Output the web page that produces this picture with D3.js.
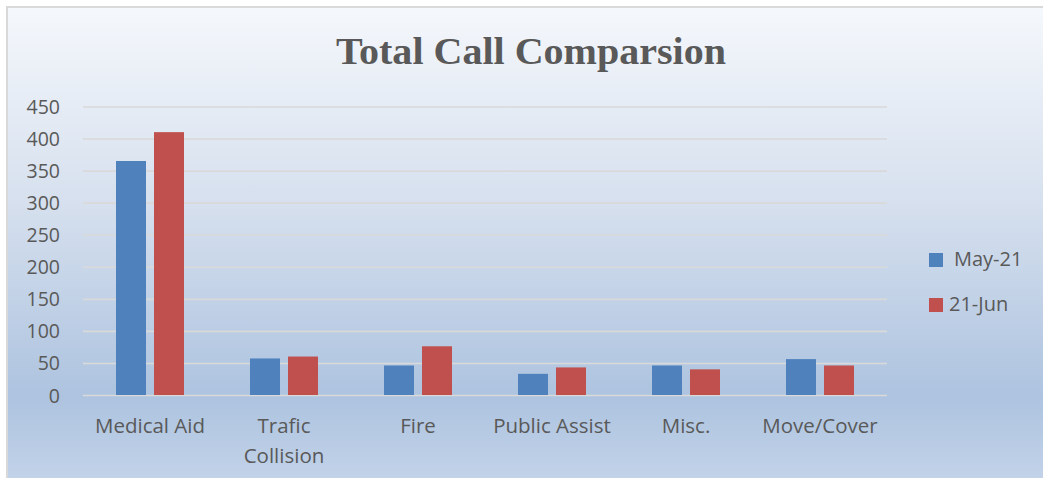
<!DOCTYPE html>
<html>
<head>
<meta charset="utf-8">
<script src="https://cdn.jsdelivr.net/npm/d3@7"></script>
<style>
  body { margin: 0; background: #fff; }
  svg { display: block; }
  text { font-family: "Open Sans", sans-serif; fill: #595959; }
</style>
</head>
<body>
<div id="chart"></div>
<script>
// chart data
var categories = ["Medical Aid", "Trafic Collision", "Fire", "Public Assist", "Misc.", "Move/Cover"]
var series_names = ["May-21", "21-Jun"]
var may_values = [365, 57, 46, 33, 46, 56]
var jun_values = [410, 60, 76, 43, 40, 46]
var y_ticks = [0, 50, 100, 150, 200, 250, 300, 350, 400, 450]
var title_text = "Total Call Comparsion"

var colors = ["#4f81bd", "#c0504d"]
var W = 1043, H = 478
var plot = {left: 83, right: 887, top: 106.5, bottom: 395}

var svg = d3.select("#chart").append("svg")
    .attr("width", W)
    .attr("height", H)

// background gradient of the chart area
var grad = svg.append("defs").append("linearGradient")
    .attr("id", "bg")
    .attr("x1", 0).attr("y1", 0).attr("x2", 0).attr("y2", 1)
grad.append("stop").attr("offset", "0%").attr("stop-color", "#f5f8fc")
grad.append("stop").attr("offset", "40%").attr("stop-color", "#d6e0ee")
grad.append("stop").attr("offset", "80%").attr("stop-color", "#adc3df")
grad.append("stop").attr("offset", "100%").attr("stop-color", "#c6d6eb")

svg.append("rect")
    .attr("x", 7).attr("y", 7)
    .attr("width", W + 10).attr("height", H + 10)
    .attr("fill", "url(#bg)")
    .attr("stroke", "#d9d9d9")
    .attr("stroke-width", 2)

// title
svg.append("text")
    .attr("x", 531)
    .attr("y", 64)
    .attr("text-anchor", "middle")
    .attr("textLength", 390)
    .attr("lengthAdjust", "spacingAndGlyphs")
    .style("font-family", "'Liberation Serif', 'DejaVu Serif', serif")
    .style("font-weight", "bold")
    .style("font-size", "38px")
    .text(title_text)

// scales
var y = d3.scaleLinear().domain([0, 450]).range([plot.bottom, plot.top])
var x0 = d3.scaleBand().domain(categories).range([plot.left, plot.right])
var group_w = 68
var x1 = d3.scaleBand()
    .domain(series_names)
    .range([(x0.bandwidth() - group_w) / 2, (x0.bandwidth() + group_w) / 2])
    .paddingInner(0.2105)

// gridlines + y labels
var yAxis = svg.append("g")
    .attr("transform", "translate(" + plot.left + ",0)")
    .call(d3.axisLeft(y).tickValues(y_ticks).tickSize(-(plot.right - plot.left)).tickPadding(23))
yAxis.select(".domain").remove()
yAxis.selectAll(".tick line").attr("stroke", "#d9d9d9").attr("stroke-width", 1.6)
yAxis.selectAll(".tick text")
    .style("font-size", "19.5px")
    .style("font-family", "'Open Sans', sans-serif")
    .attr("fill", "#595959")
    .attr("dy", "0.36em")

// bars
var rows = categories.map(function (c, i) {
    return {cat: c, vals: [may_values[i], jun_values[i]]}
})
var groups = svg.append("g").selectAll("g")
    .data(rows)
    .enter().append("g")
    .attr("transform", function (d) { return "translate(" + x0(d.cat) + ",0)" })
groups.selectAll("rect")
    .data(function (d) { return d.vals.map(function (v, j) { return {s: series_names[j], v: v, j: j} }) })
    .enter().append("rect")
    .attr("x", function (d) { return x1(d.s) })
    .attr("width", x1.bandwidth())
    .attr("y", function (d) { return y(d.v) })
    .attr("height", function (d) { return y(0) - y(d.v) })
    .attr("fill", function (d) { return colors[d.j] })

// category labels, wrapped to band width
var xl = svg.append("g").selectAll("text")
    .data(categories)
    .enter().append("text")
    .attr("x", function (d) { return x0(d) + x0.bandwidth() / 2 })
    .attr("y", 433)
    .attr("text-anchor", "middle")
    .style("font-size", "20.5px")
    .text(function (d) { return d })

xl.each(function (d) {
    var t = d3.select(this)
    if (this.getComputedTextLength() > x0.bandwidth() - 8) {
        var words = d.split(" ")
        t.text(null)
        words.forEach(function (w, k) {
            t.append("tspan")
                .attr("x", t.attr("x"))
                .attr("dy", k === 0 ? 0 : 30)
                .text(w)
        })
    }
})

// legend
var legend = svg.append("g")
legend.selectAll("rect")
    .data(series_names)
    .enter().append("rect")
    .attr("x", 929)
    .attr("y", function (d, i) { return 253 + i * 45 })
    .attr("width", 14).attr("height", 14)
    .attr("fill", function (d, i) { return colors[i] })
legend.selectAll("text")
    .data(series_names)
    .enter().append("text")
    .attr("x", function (d, i) { return i === 0 ? 954 : 949 })
    .attr("y", function (d, i) { return 266 + i * 45 })
    .style("font-size", "20px")
    .text(function (d) { return d })
</script>
</body>
</html>
